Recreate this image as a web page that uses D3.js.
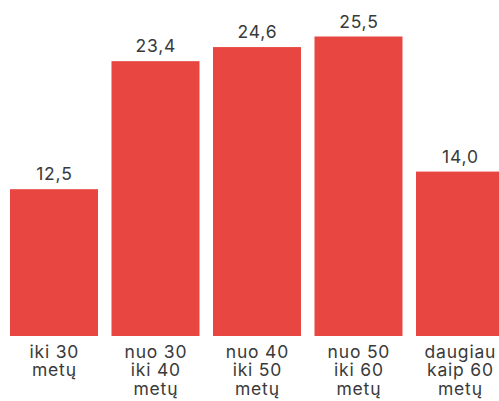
<!DOCTYPE html>
<html><head><meta charset="utf-8">
<script src="https://cdn.jsdelivr.net/npm/d3@7"></script>
<style>body{margin:0;background:#fff}svg{display:block}</style>
</head><body>
<svg id="c" width="499" height="401"></svg>
<script>
const categories = [["iki 30","metų"],["nuo 30","iki 40","metų"],["nuo 40","iki 50","metų"],["nuo 50","iki 60","metų"],["daugiau","kaip 60","metų"]];
const values = [12.5, 23.4, 24.6, 25.5, 14.0];
const valueLabels = ["12,5","23,4","24,6","25,5","14,0"];

const svg = d3.select("#c");
const keys = categories.map((c,i)=>i);
const x = d3.scaleBand().domain(keys).range([10, 504]).paddingInner(0.133).paddingOuter(0);
const y = d3.scaleLinear().domain([0, 25.5]).range([336, 36.5]);
const font = "Inter, 'Noto Sans', sans-serif";

svg.selectAll("rect").data(values).join("rect")
  .attr("x",(d,i)=>x(i)).attr("width",x.bandwidth())
  .attr("y",d=>y(d)).attr("height",d=>y(0)-y(d))
  .attr("fill","#e84641");

svg.selectAll("text.v").data(values).join("text").attr("class","v")
  .attr("x",(d,i)=>x(i)+x.bandwidth()/2+0.4).attr("y",d=>y(d)-9)
  .attr("text-anchor","middle").attr("font-family",font).attr("font-size",17.5)
  .attr("letter-spacing","0.8px")
  .attr("fill","#3a3a3a").text((d,i)=>valueLabels[i]);

const g = svg.selectAll("text.c").data(categories).join("text").attr("class","c")
  .attr("text-anchor","middle").attr("font-family",font).attr("font-size",17.5)
  .attr("letter-spacing","0.8px").attr("fill","#3a3a3a");
g.each(function(lines,i){
  d3.select(this).selectAll("tspan").data(lines).join("tspan")
    .attr("x",x(i)+x.bandwidth()/2+0.4).attr("y",(l,j)=>358+j*18.4).text(l=>l);
});
</script>
</body></html>
